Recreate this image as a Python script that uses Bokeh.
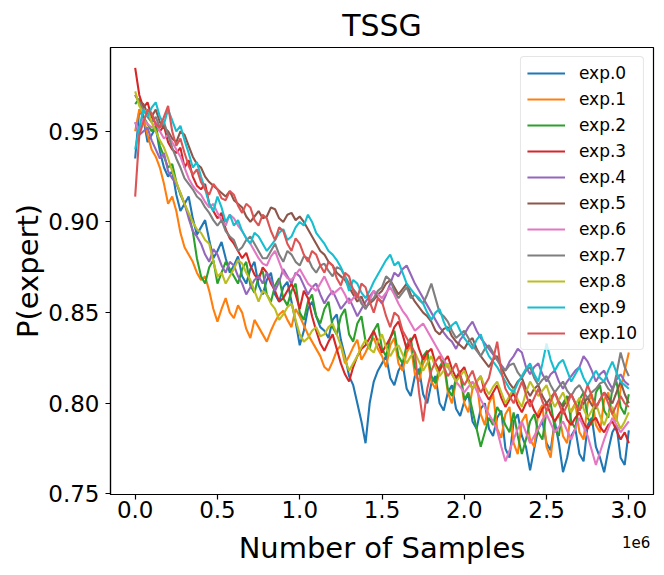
from bokeh.plotting import figure
from bokeh.models import (Range1d, FixedTicker, Legend, LegendItem, LinearAxis,
                          NumeralTickFormatter, CustomJSTickFormatter)
from bokeh.embed import file_html
from bokeh.resources import INLINE

# sample counts (every 25k steps, 0 .. 3e6)
samples = [i * 25000 for i in range(121)]

exp0 = [0.935, 0.962, 0.957, 0.944, 0.948, 0.952, 0.939, 0.930, 0.925, 0.928,
        0.915, 0.906, 0.910, 0.914, 0.902, 0.893, 0.897, 0.901, 0.890, 0.880,
        0.884, 0.889, 0.880, 0.872, 0.876, 0.881, 0.870, 0.866, 0.874, 0.878,
        0.865, 0.860, 0.868, 0.872, 0.860, 0.856, 0.864, 0.867, 0.856, 0.845,
        0.832, 0.840, 0.852, 0.856, 0.848, 0.842, 0.840, 0.836, 0.846, 0.849,
        0.835, 0.826, 0.815, 0.810, 0.800, 0.790, 0.778, 0.800, 0.812, 0.818,
        0.822, 0.826, 0.814, 0.810, 0.818, 0.822, 0.808, 0.804, 0.815, 0.819,
        0.805, 0.800, 0.811, 0.815, 0.800, 0.796, 0.806, 0.810, 0.797, 0.793,
        0.801, 0.805, 0.790, 0.786, 0.797, 0.800, 0.786, 0.782, 0.792, 0.796,
        0.775, 0.770, 0.790, 0.794, 0.782, 0.776, 0.763, 0.775, 0.786, 0.790,
        0.778, 0.774, 0.790, 0.778, 0.762, 0.770, 0.782, 0.786, 0.772, 0.768,
        0.788, 0.792, 0.776, 0.770, 0.762, 0.774, 0.784, 0.788, 0.770, 0.766,
        0.785]
exp1 = [0.950, 0.962, 0.958, 0.948, 0.940, 0.936, 0.930, 0.921, 0.910, 0.914,
        0.906, 0.894, 0.886, 0.882, 0.878, 0.872, 0.868, 0.870, 0.862, 0.852,
        0.845, 0.852, 0.858, 0.850, 0.847, 0.854, 0.850, 0.841, 0.836, 0.846,
        0.842, 0.838, 0.834, 0.840, 0.845, 0.849, 0.851, 0.846, 0.842, 0.852,
        0.848, 0.843, 0.838, 0.834, 0.830, 0.826, 0.820, 0.818, 0.823, 0.829,
        0.832, 0.822, 0.826, 0.831, 0.835, 0.824, 0.828, 0.833, 0.836, 0.830,
        0.826, 0.820, 0.832, 0.836, 0.822, 0.818, 0.828, 0.832, 0.816, 0.812,
        0.822, 0.826, 0.812, 0.808, 0.818, 0.822, 0.806, 0.800, 0.812, 0.816,
        0.800, 0.795, 0.808, 0.812, 0.794, 0.788, 0.800, 0.805, 0.786, 0.781,
        0.794, 0.798, 0.778, 0.772, 0.790, 0.794, 0.780, 0.776, 0.795, 0.799,
        0.776, 0.770, 0.790, 0.794, 0.782, 0.778, 0.796, 0.800, 0.784, 0.780,
        0.800, 0.805, 0.788, 0.784, 0.802, 0.806, 0.794, 0.790, 0.808, 0.818,
        0.828]
exp2 = [0.965, 0.968, 0.958, 0.954, 0.950, 0.953, 0.942, 0.936, 0.930, 0.932,
        0.922, 0.915, 0.910, 0.904, 0.895, 0.880, 0.870, 0.866, 0.875, 0.879,
        0.866, 0.872, 0.878, 0.874, 0.870, 0.866, 0.874, 0.878, 0.865, 0.861,
        0.870, 0.873, 0.860, 0.856, 0.865, 0.869, 0.858, 0.854, 0.862, 0.866,
        0.850, 0.846, 0.856, 0.860, 0.848, 0.844, 0.852, 0.856, 0.842, 0.838,
        0.848, 0.852, 0.838, 0.834, 0.844, 0.848, 0.834, 0.830, 0.840, 0.844,
        0.830, 0.826, 0.836, 0.840, 0.826, 0.822, 0.832, 0.836, 0.820, 0.816,
        0.826, 0.829, 0.815, 0.811, 0.820, 0.824, 0.808, 0.804, 0.814, 0.818,
        0.802, 0.806, 0.796, 0.786, 0.776, 0.784, 0.792, 0.788, 0.798, 0.794,
        0.788, 0.784, 0.795, 0.782, 0.772, 0.780, 0.790, 0.794, 0.784, 0.780,
        0.796, 0.800, 0.786, 0.782, 0.800, 0.804, 0.790, 0.786, 0.802, 0.806,
        0.792, 0.788, 0.806, 0.810, 0.796, 0.792, 0.808, 0.812, 0.798, 0.794,
        0.805]
exp3 = [0.985, 0.970, 0.963, 0.966, 0.958, 0.954, 0.950, 0.953, 0.944, 0.940,
        0.938, 0.941, 0.930, 0.934, 0.925, 0.920, 0.918, 0.921, 0.910, 0.906,
        0.902, 0.905, 0.896, 0.891, 0.888, 0.884, 0.880, 0.883, 0.876, 0.871,
        0.868, 0.875, 0.872, 0.866, 0.862, 0.856, 0.858, 0.862, 0.866, 0.860,
        0.852, 0.862, 0.858, 0.848, 0.840, 0.833, 0.829, 0.834, 0.838, 0.830,
        0.822, 0.816, 0.812, 0.820, 0.826, 0.830, 0.832, 0.836, 0.840, 0.834,
        0.828, 0.832, 0.836, 0.842, 0.845, 0.838, 0.830, 0.834, 0.838, 0.830,
        0.824, 0.828, 0.830, 0.822, 0.818, 0.823, 0.826, 0.819, 0.814, 0.817,
        0.820, 0.813, 0.808, 0.812, 0.815, 0.806, 0.802, 0.806, 0.810, 0.803,
        0.798, 0.802, 0.806, 0.799, 0.795, 0.800, 0.802, 0.796, 0.792, 0.797,
        0.800, 0.794, 0.790, 0.794, 0.797, 0.791, 0.788, 0.792, 0.795, 0.789,
        0.786, 0.790, 0.792, 0.787, 0.784, 0.788, 0.790, 0.785, 0.780, 0.784,
        0.778]
exp4 = [0.955, 0.948, 0.950, 0.952, 0.945, 0.940, 0.935, 0.938, 0.928, 0.924,
        0.921, 0.916, 0.910, 0.902, 0.895, 0.892, 0.888, 0.882, 0.878, 0.885,
        0.882, 0.876, 0.872, 0.878, 0.876, 0.870, 0.866, 0.860, 0.864, 0.868,
        0.870, 0.866, 0.872, 0.868, 0.862, 0.867, 0.874, 0.870, 0.866, 0.872,
        0.870, 0.865, 0.860, 0.864, 0.866, 0.860, 0.855, 0.859, 0.862, 0.857,
        0.852, 0.855, 0.858, 0.853, 0.848, 0.852, 0.856, 0.859, 0.862, 0.858,
        0.855, 0.860, 0.866, 0.872, 0.870, 0.874, 0.876, 0.871, 0.866, 0.862,
        0.858, 0.854, 0.850, 0.846, 0.842, 0.839, 0.836, 0.834, 0.830, 0.835,
        0.838, 0.842, 0.845, 0.840, 0.836, 0.833, 0.830, 0.827, 0.824, 0.821,
        0.818, 0.823, 0.826, 0.830, 0.828, 0.820, 0.816, 0.820, 0.822, 0.816,
        0.812, 0.816, 0.818, 0.812, 0.808, 0.812, 0.815, 0.818, 0.820, 0.826,
        0.823, 0.818, 0.812, 0.816, 0.818, 0.812, 0.808, 0.813, 0.816, 0.812,
        0.810]
exp5 = [0.970, 0.966, 0.965, 0.960, 0.958, 0.962, 0.955, 0.952, 0.950, 0.946,
        0.944, 0.950, 0.948, 0.942, 0.936, 0.932, 0.930, 0.925, 0.922, 0.920,
        0.918, 0.916, 0.914, 0.917, 0.912, 0.910, 0.908, 0.903, 0.900, 0.903,
        0.906, 0.902, 0.903, 0.908, 0.907, 0.902, 0.900, 0.904, 0.905, 0.901,
        0.903, 0.900, 0.896, 0.892, 0.888, 0.884, 0.882, 0.878, 0.876, 0.872,
        0.870, 0.868, 0.864, 0.860, 0.856, 0.859, 0.853, 0.855, 0.857, 0.860,
        0.862, 0.866, 0.868, 0.864, 0.860, 0.863, 0.866, 0.860, 0.856, 0.853,
        0.850, 0.848, 0.845, 0.840, 0.838, 0.841, 0.842, 0.837, 0.834, 0.832,
        0.830, 0.834, 0.836, 0.830, 0.826, 0.823, 0.820, 0.824, 0.826, 0.820,
        0.815, 0.811, 0.808, 0.812, 0.814, 0.808, 0.804, 0.808, 0.810, 0.804,
        0.800, 0.803, 0.806, 0.801, 0.798, 0.802, 0.805, 0.800, 0.796, 0.800,
        0.803, 0.799, 0.797, 0.802, 0.806, 0.803, 0.800, 0.806, 0.812, 0.805,
        0.800]
exp6 = [0.955, 0.950, 0.957, 0.954, 0.952, 0.955, 0.950, 0.946, 0.948, 0.944,
        0.940, 0.936, 0.930, 0.924, 0.920, 0.917, 0.915, 0.911, 0.908, 0.910,
        0.905, 0.901, 0.898, 0.904, 0.902, 0.898, 0.895, 0.891, 0.888, 0.884,
        0.880, 0.877, 0.876, 0.881, 0.884, 0.878, 0.872, 0.869, 0.868, 0.871,
        0.874, 0.870, 0.866, 0.864, 0.862, 0.866, 0.870, 0.865, 0.860, 0.862,
        0.864, 0.860, 0.855, 0.858, 0.860, 0.856, 0.852, 0.857, 0.862, 0.860,
        0.858, 0.861, 0.864, 0.860, 0.855, 0.851, 0.848, 0.844, 0.840, 0.842,
        0.844, 0.840, 0.836, 0.832, 0.828, 0.824, 0.820, 0.816, 0.812, 0.809,
        0.806, 0.809, 0.812, 0.807, 0.802, 0.798, 0.794, 0.790, 0.785, 0.776,
        0.768, 0.774, 0.780, 0.786, 0.790, 0.784, 0.778, 0.782, 0.786, 0.791,
        0.794, 0.789, 0.784, 0.787, 0.790, 0.785, 0.780, 0.786, 0.792, 0.787,
        0.782, 0.774, 0.766, 0.773, 0.780, 0.786, 0.792, 0.788, 0.784, 0.787,
        0.790]
exp7 = [0.970, 0.966, 0.962, 0.958, 0.955, 0.958, 0.952, 0.955, 0.948, 0.941,
        0.935, 0.930, 0.924, 0.921, 0.918, 0.914, 0.912, 0.908, 0.905, 0.901,
        0.898, 0.901, 0.895, 0.892, 0.890, 0.884, 0.886, 0.890, 0.892, 0.888,
        0.884, 0.880, 0.880, 0.884, 0.888, 0.882, 0.878, 0.884, 0.882, 0.878,
        0.876, 0.881, 0.880, 0.875, 0.872, 0.876, 0.877, 0.873, 0.870, 0.875,
        0.874, 0.870, 0.866, 0.863, 0.860, 0.855, 0.852, 0.856, 0.858, 0.862,
        0.864, 0.870, 0.868, 0.862, 0.858, 0.861, 0.864, 0.858, 0.860, 0.857,
        0.855, 0.860, 0.866, 0.858, 0.850, 0.848, 0.845, 0.840, 0.836, 0.838,
        0.840, 0.836, 0.832, 0.829, 0.826, 0.830, 0.832, 0.828, 0.824, 0.820,
        0.818, 0.821, 0.822, 0.817, 0.814, 0.818, 0.820, 0.814, 0.810, 0.813,
        0.815, 0.810, 0.806, 0.809, 0.812, 0.807, 0.804, 0.808, 0.810, 0.806,
        0.803, 0.806, 0.808, 0.811, 0.812, 0.808, 0.806, 0.816, 0.828, 0.820,
        0.815]
exp8 = [0.972, 0.964, 0.960, 0.962, 0.955, 0.950, 0.945, 0.941, 0.935, 0.928,
        0.922, 0.916, 0.910, 0.905, 0.900, 0.896, 0.894, 0.890, 0.888, 0.878,
        0.870, 0.872, 0.866, 0.870, 0.874, 0.879, 0.877, 0.872, 0.868, 0.862,
        0.856, 0.862, 0.860, 0.855, 0.852, 0.846, 0.849, 0.853, 0.855, 0.846,
        0.838, 0.834, 0.836, 0.840, 0.842, 0.837, 0.838, 0.842, 0.844, 0.838,
        0.832, 0.824, 0.818, 0.822, 0.826, 0.831, 0.835, 0.830, 0.828, 0.834,
        0.838, 0.831, 0.826, 0.830, 0.832, 0.827, 0.822, 0.826, 0.828, 0.823,
        0.818, 0.822, 0.826, 0.820, 0.815, 0.818, 0.822, 0.816, 0.812, 0.815,
        0.818, 0.812, 0.808, 0.812, 0.815, 0.809, 0.805, 0.809, 0.812, 0.806,
        0.800, 0.804, 0.808, 0.802, 0.798, 0.806, 0.812, 0.808, 0.804, 0.807,
        0.810, 0.803, 0.798, 0.802, 0.806, 0.800, 0.795, 0.799, 0.803, 0.797,
        0.792, 0.796, 0.800, 0.793, 0.788, 0.794, 0.798, 0.791, 0.786, 0.790,
        0.795]
exp9 = [0.940, 0.952, 0.962, 0.958, 0.963, 0.966, 0.958, 0.954, 0.962, 0.956,
        0.950, 0.953, 0.945, 0.938, 0.930, 0.933, 0.925, 0.918, 0.910, 0.906,
        0.914, 0.908, 0.900, 0.904, 0.898, 0.901, 0.895, 0.891, 0.888, 0.894,
        0.892, 0.888, 0.884, 0.887, 0.890, 0.894, 0.896, 0.890, 0.892, 0.897,
        0.900, 0.898, 0.904, 0.900, 0.894, 0.891, 0.888, 0.884, 0.882, 0.879,
        0.875, 0.870, 0.862, 0.868, 0.866, 0.861, 0.858, 0.862, 0.867, 0.871,
        0.875, 0.879, 0.882, 0.876, 0.878, 0.872, 0.866, 0.863, 0.860, 0.858,
        0.855, 0.850, 0.846, 0.850, 0.852, 0.845, 0.840, 0.843, 0.845, 0.840,
        0.836, 0.833, 0.830, 0.835, 0.838, 0.831, 0.826, 0.823, 0.820, 0.816,
        0.812, 0.808, 0.806, 0.811, 0.815, 0.819, 0.822, 0.816, 0.812, 0.822,
        0.833, 0.824, 0.818, 0.822, 0.824, 0.818, 0.812, 0.816, 0.820, 0.814,
        0.810, 0.814, 0.818, 0.814, 0.812, 0.818, 0.823, 0.817, 0.812, 0.810,
        0.808]
exp10 = [0.914, 0.948, 0.955, 0.962, 0.960, 0.954, 0.952, 0.958, 0.964, 0.950,
         0.942, 0.946, 0.938, 0.931, 0.926, 0.929, 0.922, 0.918, 0.915, 0.921,
         0.918, 0.913, 0.912, 0.917, 0.915, 0.909, 0.905, 0.910, 0.908, 0.901,
         0.898, 0.904, 0.902, 0.895, 0.890, 0.897, 0.895, 0.888, 0.884, 0.891,
         0.888, 0.882, 0.878, 0.884, 0.882, 0.876, 0.872, 0.878, 0.876, 0.869,
         0.865, 0.872, 0.870, 0.862, 0.858, 0.866, 0.864, 0.856, 0.850, 0.858,
         0.856, 0.848, 0.842, 0.850, 0.848, 0.840, 0.836, 0.832, 0.828, 0.806,
         0.790, 0.808, 0.818, 0.823, 0.826, 0.820, 0.815, 0.818, 0.822, 0.815,
         0.810, 0.814, 0.818, 0.811, 0.806, 0.810, 0.814, 0.824, 0.834, 0.818,
         0.808, 0.804, 0.800, 0.806, 0.812, 0.805, 0.798, 0.803, 0.808, 0.801,
         0.796, 0.801, 0.806, 0.800, 0.794, 0.799, 0.805, 0.800, 0.796, 0.803,
         0.810, 0.804, 0.798, 0.802, 0.806, 0.800, 0.794, 0.799, 0.804, 0.800,
         0.798]

series = [exp0, exp1, exp2, exp3, exp4, exp5, exp6, exp7, exp8, exp9, exp10]
names = ["exp.%d" % i for i in range(11)]
colors = ["#1f77b4", "#ff7f0e", "#2ca02c", "#d62728", "#9467bd", "#8c564b",
          "#e377c2", "#7f7f7f", "#bcbd22", "#17becf", "#dc5454"]
x_ticks = [0.0, 0.5, 1.0, 1.5, 2.0, 2.5, 3.0]
y_ticks = [0.75, 0.80, 0.85, 0.90, 0.95]

FONT = "DejaVu Sans"

p = figure(width=664, height=575, output_backend="svg", toolbar_location=None,
           x_range=Range1d(-0.15, 3.15), y_range=Range1d(0.7497, 0.9962),
           min_border_left=110, min_border_right=11, min_border_top=46, min_border_bottom=81,
           title="TSSG")
p.background_fill_color = "white"
p.border_fill_color = "white"
p.outline_line_color = "black"
p.outline_line_width = 1.2
p.xgrid.visible = False
p.ygrid.visible = False

p.title.text_font = FONT
p.title.text_font_size = "30px"
p.title.text_font_style = "normal"
p.title.align = "center"
p.title.text_color = "black"

items = []
for ys, name, c in zip(series, names, colors):
    xs = [s / 1e6 for s in samples[:len(ys)]]
    r = p.line(xs, ys, line_color=c, line_width=2.1)
    items.append(LegendItem(label=name, renderers=[r]))

for ax in (p.xaxis[0], p.yaxis[0]):
    ax.axis_line_width = 1.2
    ax.major_tick_line_width = 1.2
    ax.major_tick_out = 5
    ax.major_tick_in = 0
    ax.minor_tick_line_color = None
    ax.major_label_text_font = FONT
    ax.major_label_text_font_size = "23px"
    ax.major_label_text_color = "black"
    ax.axis_label_text_font = FONT
    ax.axis_label_text_font_size = "29px"
    ax.axis_label_text_font_style = "normal"
    ax.axis_label_text_color = "black"

p.xaxis[0].ticker = FixedTicker(ticks=x_ticks)
p.xaxis[0].formatter = NumeralTickFormatter(format="0.0")
p.xaxis[0].major_label_standoff = 1
p.yaxis[0].ticker = FixedTicker(ticks=y_ticks)
p.yaxis[0].formatter = NumeralTickFormatter(format="0.00")
p.yaxis[0].axis_label = "P(expert)"
p.yaxis[0].major_label_standoff = 6
p.yaxis[0].axis_label_standoff = 0

# second (decorative) x axis carrying the scale offset text and the axis title
xlab = LinearAxis(ticker=FixedTicker(ticks=[3.045]),
                  formatter=CustomJSTickFormatter(code="return '1e6'"))
xlab.axis_line_color = None
xlab.major_tick_line_color = None
xlab.minor_tick_line_color = None
xlab.major_tick_out = 0
xlab.major_tick_in = 0
xlab.major_label_standoff = 15
xlab.major_label_text_font = FONT
xlab.major_label_text_font_size = "15px"
xlab.major_label_text_color = "black"
xlab.axis_label = "Number of Samples"
xlab.axis_label_text_font = FONT
xlab.axis_label_text_font_size = "29px"
xlab.axis_label_text_font_style = "normal"
xlab.axis_label_text_color = "black"
xlab.axis_label_standoff = -20
p.add_layout(xlab, "below")

legend = Legend(items=items, location="top_right")
legend.label_text_font = FONT
legend.label_text_font_size = "17px"
legend.label_text_color = "black"
legend.glyph_width = 38
legend.glyph_height = 20
legend.label_height = 20
legend.spacing = 6
legend.padding = 6
legend.label_standoff = 14
legend.margin = 9
legend.border_line_color = "#cccccc"
legend.border_line_width = 1.2
legend.background_fill_alpha = 0.8
if "border_radius" in Legend.properties():
    legend.border_radius = 4
p.add_layout(legend)

open("out.html", "w").write(file_html(p, INLINE))
